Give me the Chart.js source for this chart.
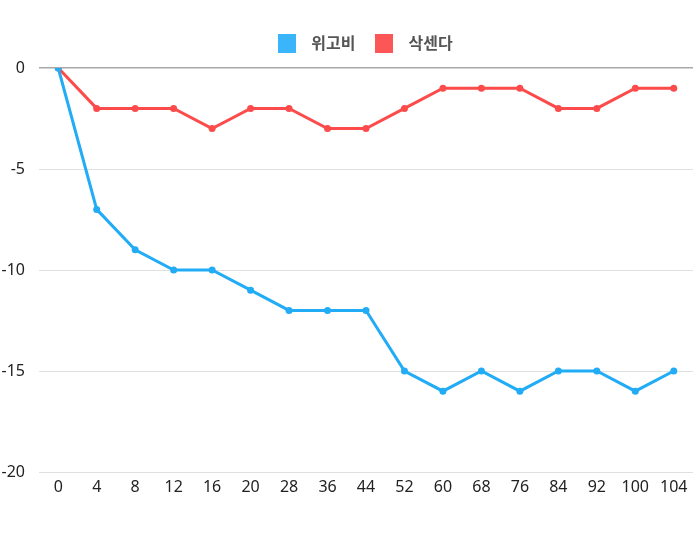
<!DOCTYPE html>
<html>
<head>
<meta charset="utf-8">
<script src="https://cdn.jsdelivr.net/npm/chart.js@4/dist/chart.umd.min.js"></script>
<style>
  html, body { margin: 0; padding: 0; background: #fff; }
  #wrap { width: 700px; height: 540px; }
</style>
</head>
<body>
<div id="wrap"><canvas id="chart"></canvas></div>
<script>
// weeks on x axis
const weeks = ['0', '4', '8', '12', '16', '20', '28', '36', '44', '52', '60', '68', '76', '84', '92', '100', '104'];

// weight change per series
const wegovy = [0, -7, -9, -10, -10, -11, -12, -12, -12, -15, -16, -15, -16, -15, -15, -16, -15];
const saxenda = [0, -2, -2, -2, -3, -2, -2, -3, -3, -2, -1, -1, -1, -2, -2, -1, -1];

const yTicks = [0, -5, -10, -15, -20];

// small square swatch used as legend marker
function swatch(color) {
    const c = document.createElement('canvas');
    c.width = 18;
    c.height = 19;
    const g = c.getContext('2d');
    g.fillStyle = color;
    g.fillRect(0, 0, 18, 19);
    return c;
}
const legendBoxes = [swatch('#3ab4fb'), swatch('#fd5656')];

// more room under the legend, and legend centred over the plot area
const legendTweak = {
    id: 'legendTweak',
    beforeInit(chart) {
        const legend = chart.legend;
        const origFit = legend.fit;
        legend.fit = function () {
            origFit.call(legend);
            this.height += 7;
        };
        const origDraw = legend.draw;
        legend.draw = function () {
            const c = chart.ctx;
            c.save();
            c.translate(14, 0);
            origDraw.apply(legend, arguments);
            c.restore();
        };
    }
};

const ctx = document.getElementById('chart').getContext('2d');
const chart = new Chart(ctx, {
    type: 'line',
    data: {
        labels: weeks,
        datasets: [{
            label: '위고비',
            data: wegovy,
            borderColor: '#22acf6',
            backgroundColor: '#3ab4fb',
            borderWidth: 3,
            pointRadius: 3.5,
            pointBackgroundColor: '#22acf6',
            pointBorderWidth: 0,
            tension: 0
        }, {
            label: '삭센다',
            data: saxenda,
            borderColor: '#fd4b4b',
            backgroundColor: '#fd5656',
            borderWidth: 3,
            pointRadius: 3.5,
            pointBackgroundColor: '#fd4b4b',
            pointBorderWidth: 0,
            tension: 0
        }]
    },
    options: {
        responsive: true,
        maintainAspectRatio: false,
        animation: false,
        layout: {
            padding: { top: 23, left: 2, right: 7, bottom: 30 }
        },
        plugins: {
            legend: {
                display: true,
                position: 'top',
                labels: {
                    usePointStyle: true,
                    pointStyleWidth: 33,
                    padding: 12,
                    color: '#555',
                    font: { family: 'Noto Sans CJK KR', size: 16, weight: 'bold' },
                    generateLabels: function (chart) {
                        const items = Chart.defaults.plugins.legend.labels.generateLabels(chart);
                        items.forEach(item => { item.pointStyle = legendBoxes[item.datasetIndex]; });
                        return items;
                    }
                }
            },
            tooltip: { enabled: false }
        },
        scales: {
            x: {
                offset: true,
                grid: { display: false, drawTicks: false },
                border: { display: false },
                afterFit: axis => { axis.height = 38; },
                ticks: {
                    color: '#222',
                    maxRotation: 0,
                    autoSkip: false,
                    padding: 6,
                    font: { family: 'Noto Sans', size: 16 }
                }
            },
            y: {
                min: -20,
                max: 0,
                afterBuildTicks: axis => { axis.ticks = yTicks.map(v => ({ value: v })); },
                afterFit: axis => { axis.width = 37; },
                border: { display: false },
                grid: {
                    drawTicks: false,
                    color: ctx => ctx.tick && ctx.tick.value === 0 ? '#a8a8a8' : '#e0e0e0',
                    lineWidth: ctx => ctx.tick && ctx.tick.value === 0 ? 1.5 : 1
                },
                ticks: {
                    color: '#222',
                    padding: 14,
                    font: { family: 'Noto Sans', size: 16 }
                }
            }
        }
    },
    plugins: [legendTweak]
});
</script>
</body>
</html>
